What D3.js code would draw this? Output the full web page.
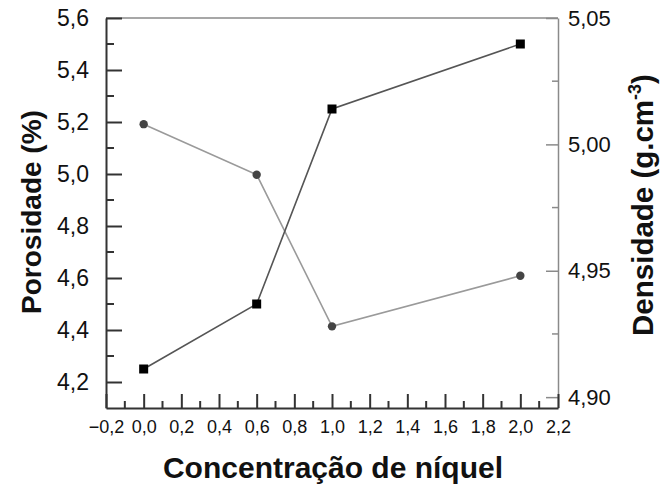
<!DOCTYPE html>
<html>
<head>
<meta charset="utf-8">
<script src="https://cdn.jsdelivr.net/npm/d3@7"></script>
<style>
  body { margin: 0; background: #fff; }
</style>
</head>
<body>
<div id="chart"></div>
<script>
// data
let concentration = [0.0, 0.6, 1.0, 2.0];
let porosity = [4.25, 4.5, 5.25, 5.5];
let density = [5.008, 4.988, 4.928, 4.948];

let xTicks = [-0.2, 0.0, 0.2, 0.4, 0.6, 0.8, 1.0, 1.2, 1.4, 1.6, 1.8, 2.0, 2.2];
let leftTicks = [4.2, 4.4, 4.6, 4.8, 5.0, 5.2, 5.4, 5.6];
let rightTicks = [4.90, 4.95, 5.00, 5.05];

let width = 669, height = 489;
let plotLeft = 106, plotRight = 558, plotTop = 18, plotBottom = 408;
let font = '"Liberation Sans", Arial, sans-serif';

let svg = d3.select('#chart').append('svg')
    .attr('width', width)
    .attr('height', height)
    .attr('font-family', font);

let x = d3.scaleLinear().domain([-0.2, 2.2]).range([plotLeft, plotRight]);
let yL = d3.scaleLinear().domain([4.1, 5.6]).range([plotBottom, plotTop]);
let yR = d3.scaleLinear().domain([4.8957, 5.05]).range([plotBottom, plotTop]);

let comma = f => (v => d3.format(f)(v).replace('.', ','));

// top frame line (gray)
svg.append('line')
    .attr('x1', plotLeft).attr('x2', plotRight)
    .attr('y1', plotTop).attr('y2', plotTop)
    .attr('stroke', '#8a8a8a').attr('stroke-width', 1.5);

// right axis (gray)
let rAxis = svg.append('g')
    .attr('transform', `translate(${plotRight},0)`)
    .call(d3.axisRight(yR).tickValues(rightTicks).tickFormat(comma('.2f'))
        .tickSizeInner(-12).tickSizeOuter(0).tickPadding(10))
    .attr('font-family', font);
rAxis.select('.domain').attr('stroke', '#8a8a8a').attr('stroke-width', 1.5);
rAxis.selectAll('.tick line').attr('stroke', '#8a8a8a').attr('stroke-width', 1.5);
rAxis.selectAll('text').attr('font-size', 22).attr('fill', '#111');
svg.append('g').selectAll('line')
    .data([4.925, 4.975, 5.025])
    .enter().append('line')
    .attr('x1', plotRight - 6).attr('x2', plotRight)
    .attr('y1', d => yR(d)).attr('y2', d => yR(d))
    .attr('stroke', '#8a8a8a').attr('stroke-width', 1.5);

// bottom axis
let bAxis = svg.append('g')
    .attr('transform', `translate(0,${plotBottom})`)
    .call(d3.axisBottom(x).tickValues(xTicks).tickFormat(comma('.1f'))
        .tickSizeInner(-14).tickSizeOuter(0).tickPadding(12))
    .attr('font-family', font);
bAxis.select('.domain').attr('stroke', '#333').attr('stroke-width', 2);
bAxis.selectAll('.tick line').attr('stroke', '#333').attr('stroke-width', 2);
bAxis.selectAll('text').attr('font-size', 18).attr('fill', '#111');
svg.append('g').selectAll('line')
    .data(d3.range(-0.1, 2.2, 0.2))
    .enter().append('line')
    .attr('x1', d => x(d)).attr('x2', d => x(d))
    .attr('y1', plotBottom).attr('y2', plotBottom - 7)
    .attr('stroke', '#333').attr('stroke-width', 2);

// left axis
let lAxis = svg.append('g')
    .attr('transform', `translate(${plotLeft},0)`)
    .call(d3.axisLeft(yL).tickValues(leftTicks).tickFormat(comma('.1f'))
        .tickSizeInner(-16).tickSizeOuter(0).tickPadding(17))
    .attr('font-family', font);
lAxis.select('.domain').attr('stroke', '#333').attr('stroke-width', 2);
lAxis.selectAll('.tick line').attr('stroke', '#333').attr('stroke-width', 2);
lAxis.selectAll('text').attr('font-size', 23).attr('fill', '#111');
svg.append('g').selectAll('line')
    .data(d3.range(4.3, 5.6, 0.2))
    .enter().append('line')
    .attr('x1', plotLeft).attr('x2', plotLeft + 8)
    .attr('y1', d => yL(d)).attr('y2', d => yL(d))
    .attr('stroke', '#333').attr('stroke-width', 2);

// density series (circles, right axis)
let dLine = d3.line()
    .x((d, i) => x(concentration[i]))
    .y(d => yR(d));
svg.append('path')
    .datum(density)
    .attr('d', dLine)
    .attr('fill', 'none')
    .attr('stroke', '#9a9a9a')
    .attr('stroke-width', 1.6);
svg.selectAll('.dot')
    .data(density)
    .enter().append('circle')
    .attr('class', 'dot')
    .attr('cx', (d, i) => x(concentration[i]))
    .attr('cy', d => yR(d))
    .attr('r', 4.2)
    .attr('fill', '#444');

// porosity series (squares, left axis)
let pLine = d3.line()
    .x((d, i) => x(concentration[i]))
    .y(d => yL(d));
svg.append('path')
    .datum(porosity)
    .attr('d', pLine)
    .attr('fill', 'none')
    .attr('stroke', '#555')
    .attr('stroke-width', 1.6);
svg.selectAll('.sq')
    .data(porosity)
    .enter().append('rect')
    .attr('class', 'sq')
    .attr('x', (d, i) => x(concentration[i]) - 4.5)
    .attr('y', d => yL(d) - 4.5)
    .attr('width', 9)
    .attr('height', 9)
    .attr('fill', '#000');

// axis titles
svg.append('text')
    .attr('x', 333)
    .attr('y', 478)
    .attr('text-anchor', 'middle')
    .attr('font-size', 30)
    .attr('font-weight', 'bold')
    .attr('fill', '#111')
    .text('Concentração de níquel');

svg.append('text')
    .attr('transform', 'translate(41,212) rotate(-90)')
    .attr('text-anchor', 'middle')
    .attr('font-size', 28)
    .attr('font-weight', 'bold')
    .attr('fill', '#111')
    .text('Porosidade (%)');

let dTitle = svg.append('text')
    .attr('transform', 'translate(653,205) rotate(-90)')
    .attr('text-anchor', 'middle')
    .attr('font-size', 29.5)
    .attr('font-weight', 'bold')
    .attr('fill', '#111');
dTitle.append('tspan').text('Densidade (g.cm');
dTitle.append('tspan').attr('font-size', 18).attr('dy', -12).text('-3');
dTitle.append('tspan').attr('dy', 12).text(')');
</script>
</body>
</html>
